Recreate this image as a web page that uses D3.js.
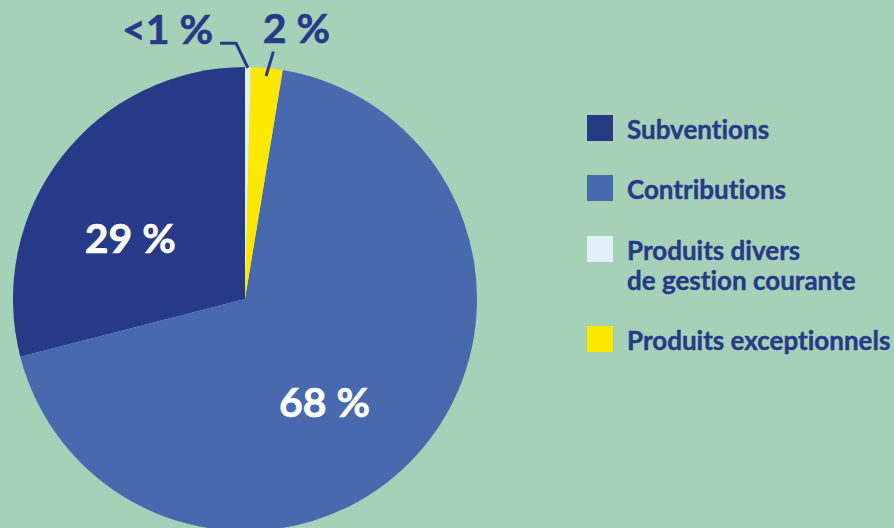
<!DOCTYPE html>
<html lang="fr">
<head>
<meta charset="UTF-8">
<title>Ressources</title>
<script src="https://cdn.jsdelivr.net/npm/d3@7"></script>
<style>
body {
	margin: 0;
	background: #a5d1b8;
}
svg {
	display: block;
	font-family: Lato, sans-serif;
	font-weight: bold;
	font-variant-ligatures: none;
}
.legend text {
	fill: #263a87;
	font-size: 26px;
	stroke: #263a87;
	stroke-width: 0.4px;
}
.outer {
	fill: #263a87;
	stroke: #263a87;
	stroke-width: 0.6px;
	font-size: 41px;
}
.inner {
	fill: #fff;
	stroke: #fff;
	stroke-width: 0.6px;
	font-size: 41px;
}
.leader {
	fill: none;
	stroke: #263a87;
	stroke-width: 3px;
}
</style>
</head>
<body>
<svg width="894" height="528"></svg>
<script>
// legend order
var categories = ["Subventions", "Contributions", "Produits divers\nde gestion courante", "Produits exceptionnels"];
var values = [29, 68.4, 0.4, 2.2];
var labels = ["29 %", "68 %", "<1 %", "2 %"];
var colors = ["#263a87", "#4869ae", "#dff0f8", "#ffe800"];
// clockwise order from 12 o'clock
var pieOrder = [2, 3, 1, 0];

var svg = d3.select("svg"),
	cx = 245, cy = 299, r = 232;

var data = categories.map(function(c, i) {
	return { name: c, value: values[i], label: labels[i], color: colors[i], idx: i };
});

var pie = d3.pie()
	.value(function(d) { return d.value; })
	.sort(function(a, b) { return pieOrder.indexOf(a.idx) - pieOrder.indexOf(b.idx); });

var arc = d3.arc().innerRadius(0).outerRadius(r);

var arcs = pie(data);

var g = svg.append("g").attr("transform", "translate(" + cx + "," + cy + ")");

g.selectAll("path.slice")
	.data(arcs)
	.enter().append("path")
	.attr("class", "slice")
	.attr("fill", function(d) { return d.data.color; })
	.attr("d", arc);

// labels inside the two big slices
g.selectAll("text.inner")
	.data(arcs.filter(function(d) { return d.data.value > 10; }))
	.enter().append("text")
	.attr("class", "inner")
	.attr("text-anchor", "middle")
	.attr("dy", "0.36em")
	.attr("transform", function(d) {
		// nudge towards the horizontal a bit, like the original
		var a = (d.startAngle + d.endAngle) / 2;
		a += (a < Math.PI ? 0.17 : -0.17);
		return "translate(" + (130 * Math.sin(a)) + "," + (-130 * Math.cos(a)) + ")";
	})
	.text(function(d) { return d.data.label; });

// small slices: leader lines + outside labels
function polar(a, rad) { return [rad * Math.sin(a), -rad * Math.cos(a)]; }

var small = arcs.filter(function(d) { return d.data.value < 1; })[0];
var yellow = arcs.filter(function(d) { return d.data.value >= 1 && d.data.value < 10; })[0];

var ma = (small.startAngle + small.endAngle) / 2;
var p0 = polar(ma, r - 1), p1 = polar(-0.035, r + 24);
g.append("path")
	.attr("class", "leader")
	.attr("d", d3.line()([p0, p1, [p1[0] - 16, p1[1]]]));
g.append("text")
	.attr("class", "outer")
	.attr("text-anchor", "end")
	.attr("x", p1[0] - 23)
	.attr("y", p1[1] + 1)
	.text(small.data.label);

var ya = (yellow.startAngle + yellow.endAngle) / 2;
var q0 = polar(ya, r - 8), q1 = polar(ya + 0.02, r + 17);
g.append("path")
	.attr("class", "leader")
	.attr("d", d3.line()([q0, q1]));
g.append("text")
	.attr("class", "outer")
	.attr("text-anchor", "middle")
	.attr("x", q1[0] + 23)
	.attr("y", q1[1] - 9)
	.text(yellow.data.label);

// legend
var legend = svg.append("g").attr("class", "legend");
var rowY = [115, 175, 236, 326];
var item = legend.selectAll("g")
	.data(data)
	.enter().append("g")
	.attr("transform", function(d, i) { return "translate(587," + rowY[i] + ")"; });
item.append("rect")
	.attr("width", 26)
	.attr("height", 26)
	.attr("fill", function(d) { return d.color; })
	.attr("stroke", "none");
item.append("text")
	.attr("x", 40)
	.attr("y", 24)
	.selectAll("tspan")
	.data(function(d) { return d.name.split("\n"); })
	.enter().append("tspan")
	.attr("x", 40)
	.attr("dy", function(d, i) { return i ? 30 : 0; })
	.text(function(d) { return d; });
</script>
</body>
</html>
